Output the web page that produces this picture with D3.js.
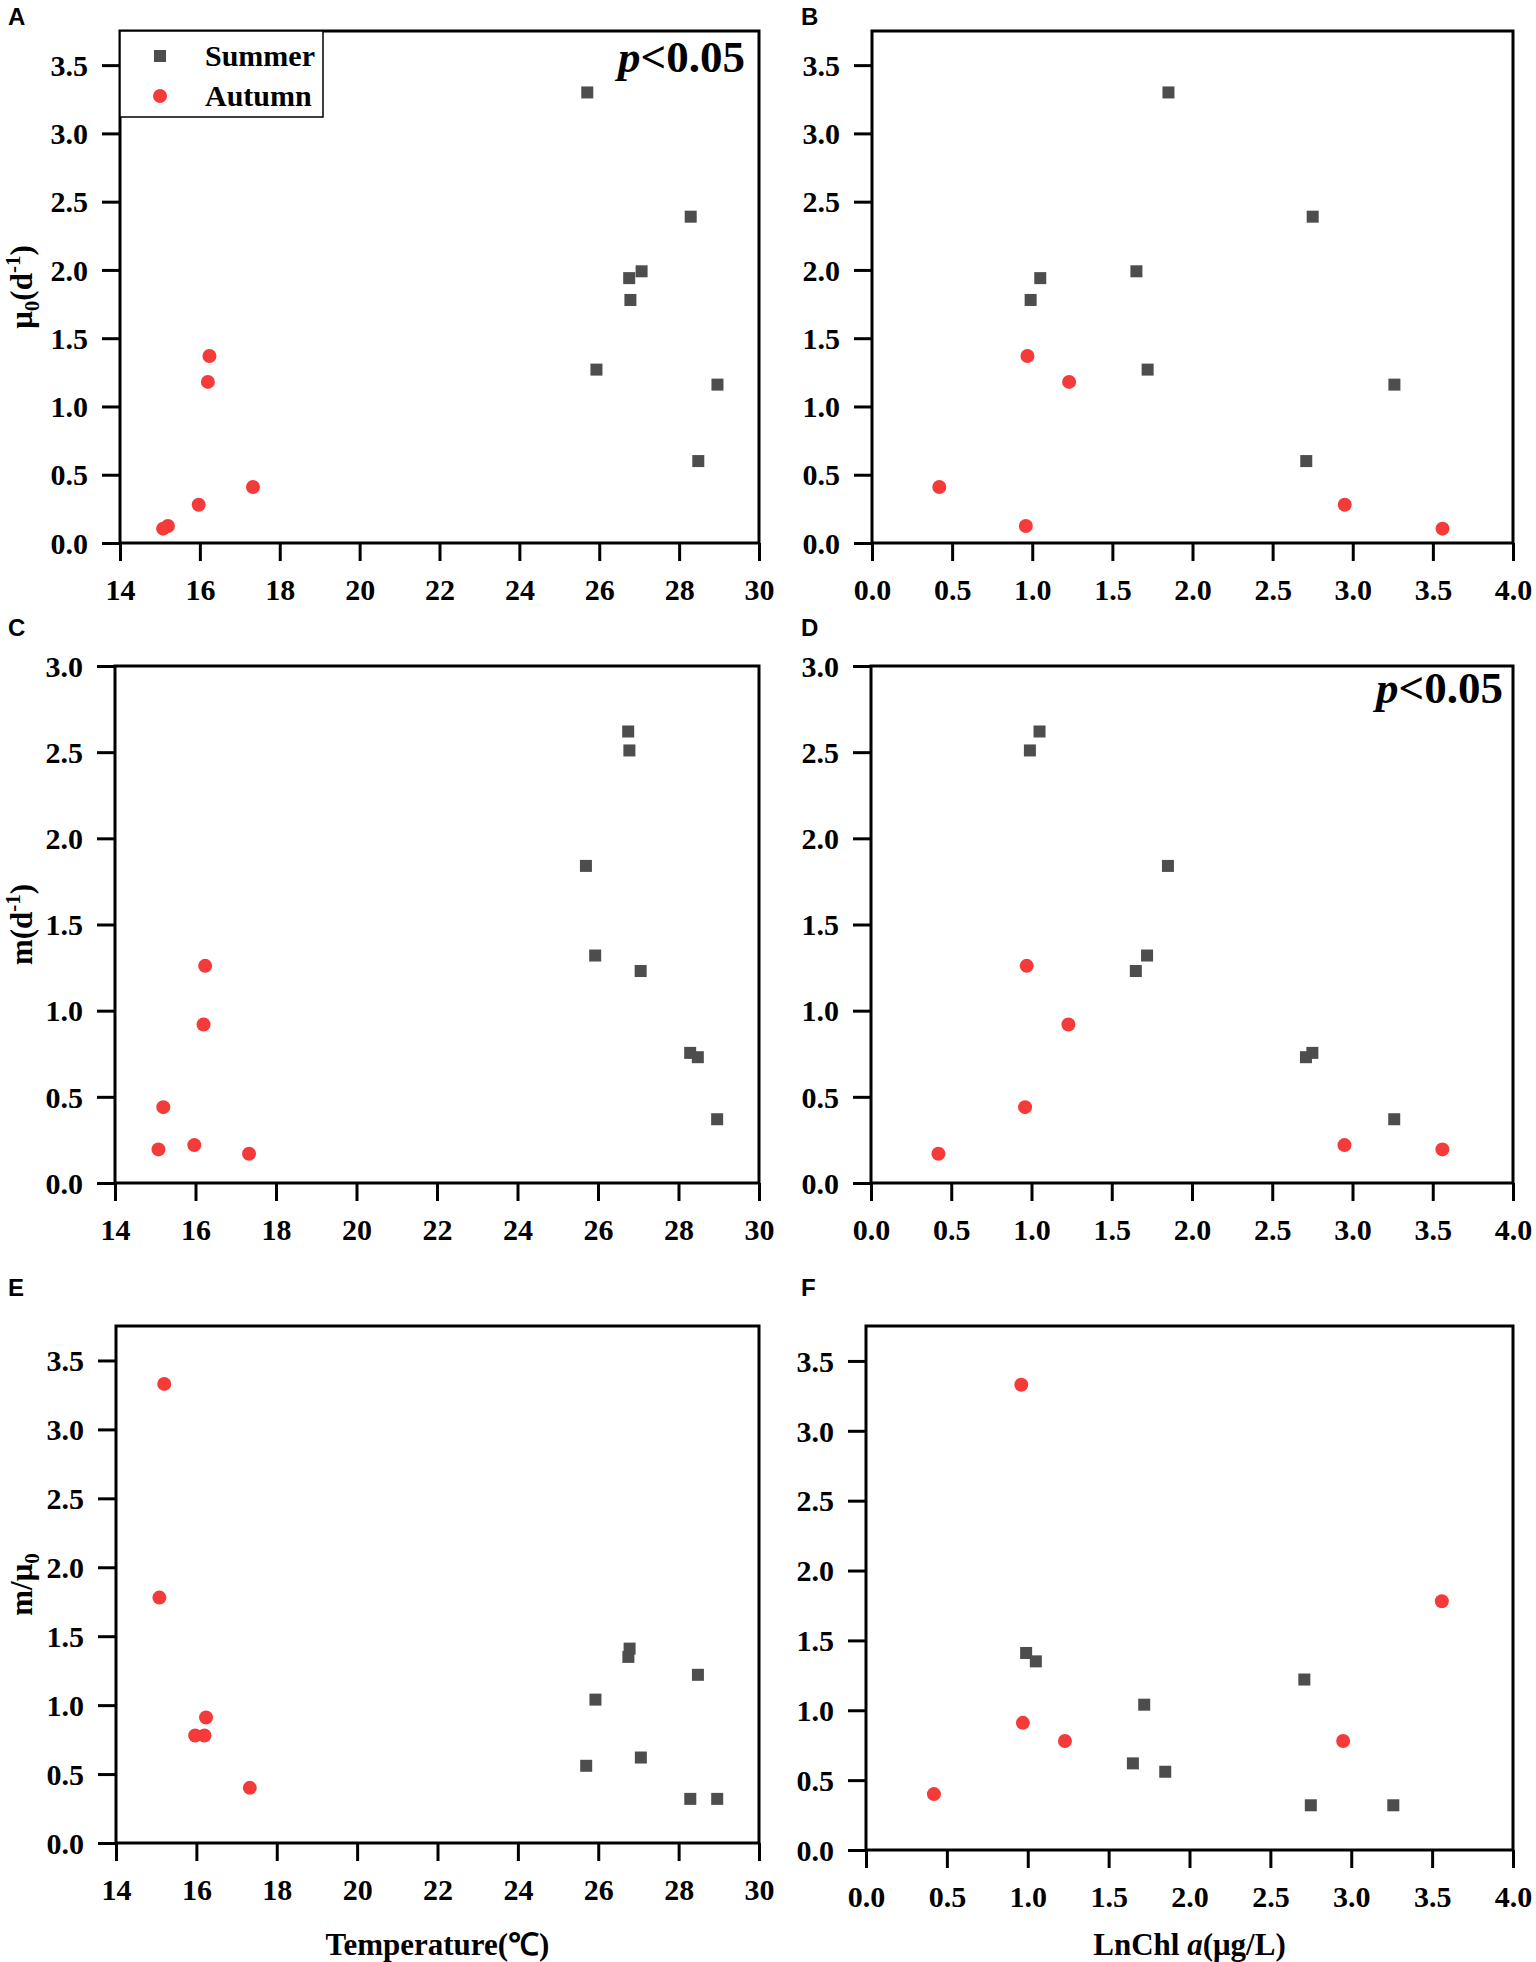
<!DOCTYPE html>
<html lang="en">
<head>
  <meta charset="UTF-8" />
  <title>Growth and grazing rates vs temperature and Chl a</title>
  <script src="https://d3js.org/d3.v7.min.js"></script>
  <style>
    body { margin:0; padding:0; background:#fff; }
    svg { display:block; background:#fff; }
    .tick text { font-family:"Liberation Serif","Times New Roman",serif; font-weight:bold; font-size:30px; fill:#000; }
    .tick line { stroke:#000; stroke-width:3px; }
    .frame { fill:none; stroke:#000; stroke-width:3px; }
    .title { font-family:"Liberation Serif","Times New Roman",serif; font-weight:bold; fill:#000; }
    .letter { font-family:"Liberation Sans",Arial,sans-serif; font-weight:bold; font-size:24px; fill:#000; }
  </style>
</head>
<body>
  <svg width="1536" height="1962"></svg>

  <script>
  // ---- data ----
  // summer stations (same order in every array)
  const summerTemp  = [25.70, 28.29, 27.06, 26.75, 26.78, 25.93, 28.96, 28.48];
  const summerChl   = [1.85, 2.75, 1.65, 1.05, 0.99, 1.72, 3.26, 2.71];
  const summerMu    = [3.30, 2.39, 1.99, 1.94, 1.78, 1.27, 1.16, 0.60];
  const summerM     = [1.84, 0.755, 1.23, 2.62, 2.51, 1.32, 0.37, 0.73];
  const summerRatio = [0.56, 0.32, 0.62, 1.35, 1.41, 1.04, 0.32, 1.22];
  // autumn stations
  const autumnTemp  = [16.24, 16.20, 15.97, 17.33, 15.20, 15.08];
  const autumnChl   = [0.97, 1.23, 2.95, 0.42, 0.96, 3.56];
  const autumnMu    = [1.37, 1.18, 0.28, 0.41, 0.125, 0.105];
  const autumnM     = [1.26, 0.92, 0.22, 0.17, 0.44, 0.195];
  const autumnRatio = [0.91, 0.78, 0.78, 0.40, 3.33, 1.78];

  const tempTicks = [14, 16, 18, 20, 22, 24, 26, 28, 30];
  const chlTicks  = [0, 0.5, 1, 1.5, 2, 2.5, 3, 3.5, 4];
  const muTicks   = [0, 0.5, 1, 1.5, 2, 2.5, 3, 3.5];
  const mTicks    = [0, 0.5, 1, 1.5, 2, 2.5, 3];
  const seasons   = ["Summer", "Autumn"];

  const SUMMER_COL = "#4d4d4d", AUTUMN_COL = "#f53a3a";

  (function(){
    const svg = d3.select("svg");
    const zip = (xs, ys) => xs.map((x, i) => ({x: x, y: ys[i]}));

    const panels = [
      { id:"A", box:[120, 759, 31, 543],  xDom:[14,30], xTicks:tempTicks, xFmt:d3.format("d"),
        yDom:[0,3.75], yTicks:muTicks, sx:summerTemp, sy:summerMu, ax:autumnTemp, ay:autumnMu,
        ytitle:"mu", legend:true, p:[745, 72] },
      { id:"B", box:[872, 1513, 31, 543], xDom:[0,4], xTicks:chlTicks, xFmt:d3.format(".1f"),
        yDom:[0,3.75], yTicks:muTicks, sx:summerChl, sy:summerMu, ax:autumnChl, ay:autumnMu },
      { id:"C", box:[115, 759, 666, 1183], xDom:[14,30], xTicks:tempTicks, xFmt:d3.format("d"),
        yDom:[0,3], yTicks:mTicks, sx:summerTemp, sy:summerM, ax:autumnTemp, ay:autumnM,
        ytitle:"m" },
      { id:"D", box:[871, 1513, 666, 1183], xDom:[0,4], xTicks:chlTicks, xFmt:d3.format(".1f"),
        yDom:[0,3], yTicks:mTicks, sx:summerChl, sy:summerM, ax:autumnChl, ay:autumnM,
        p:[1503, 703] },
      { id:"E", box:[116, 759, 1326, 1843], xDom:[14,30], xTicks:tempTicks, xFmt:d3.format("d"),
        yDom:[0,3.75], yTicks:muTicks, sx:summerTemp, sy:summerRatio, ax:autumnTemp, ay:autumnRatio,
        ytitle:"ratio", xtitle:"temp" },
      { id:"F", box:[866, 1513, 1326, 1850], xDom:[0,4], xTicks:chlTicks, xFmt:d3.format(".1f"),
        yDom:[0,3.75], yTicks:muTicks, sx:summerChl, sy:summerRatio, ax:autumnChl, ay:autumnRatio,
        xtitle:"chl" }
    ];

    panels.forEach(drawPanel);

    function drawPanel(cfg){
      const [L, R, T, B] = cfg.box;
      const x = d3.scaleLinear().domain(cfg.xDom).range([L, R]);
      const y = d3.scaleLinear().domain(cfg.yDom).range([B, T]);
      const g = svg.append("g");

      // panel letter
      const letterX = L < 400 ? 8 : 801;
      g.append("text").attr("class","letter").attr("x", letterX).attr("y", T > 100 ? T - 30 : 25)
        .text(cfg.id);

      // axes (outward ticks on bottom and left only)
      const xa = g.append("g").attr("transform", `translate(0,${B})`)
        .call(d3.axisBottom(x).tickValues(cfg.xTicks).tickFormat(cfg.xFmt).tickSize(18).tickSizeOuter(0));
      xa.select(".domain").remove();
      xa.selectAll("text").attr("y", 57).attr("dy", null);

      const ya = g.append("g").attr("transform", `translate(${L},0)`)
        .call(d3.axisLeft(y).tickValues(cfg.yTicks).tickFormat(d3.format(".1f")).tickSize(18).tickSizeOuter(0));
      ya.select(".domain").remove();
      ya.selectAll("text").attr("x", -32).attr("dy", "0.34em");

      // frame
      g.append("rect").attr("class","frame")
        .attr("x", L).attr("y", T).attr("width", R - L).attr("height", B - T);

      // points
      g.selectAll(".sq").data(zip(cfg.sx, cfg.sy)).enter().append("rect")
        .attr("class","sq")
        .attr("x", d => x(d.x) - 6).attr("y", d => y(d.y) - 6)
        .attr("width", 12).attr("height", 12)
        .attr("fill", SUMMER_COL);
      g.selectAll(".dot").data(zip(cfg.ax, cfg.ay)).enter().append("circle")
        .attr("class","dot")
        .attr("cx", d => x(d.x)).attr("cy", d => y(d.y))
        .attr("r", 7)
        .attr("fill", AUTUMN_COL);

      // p value annotation
      if (cfg.p) {
        const t = g.append("text").attr("class","title").attr("font-size", 45)
          .attr("x", cfg.p[0]).attr("y", cfg.p[1]).attr("text-anchor","end");
        t.append("tspan").attr("font-style","italic").text("p");
        t.append("tspan").text("<0.05");
      }

      // y title
      if (cfg.ytitle) {
        const cy = (T + B) / 2;
        const t = g.append("text").attr("class","title").attr("font-size", 31)
          .attr("text-anchor","middle")
          .attr("transform", `translate(32,${cy}) rotate(-90)`);
        if (cfg.ytitle === "mu") {
          t.append("tspan").text("μ");
          t.append("tspan").attr("font-size", 21).attr("dy", 7).text("0");
          t.append("tspan").attr("dy", -7).text("(d");
          t.append("tspan").attr("font-size", 21).attr("dy", -12).text("-1");
          t.append("tspan").attr("dy", 12).text(")");
        } else if (cfg.ytitle === "m") {
          t.append("tspan").text("m(d");
          t.append("tspan").attr("font-size", 21).attr("dy", -12).text("-1");
          t.append("tspan").attr("dy", 12).text(")");
        } else {
          t.append("tspan").text("m/μ");
          t.append("tspan").attr("font-size", 21).attr("dy", 7).text("0");
        }
      }

      // x title
      if (cfg.xtitle) {
        const t = g.append("text").attr("class","title").attr("font-size", 31)
          .attr("x", (L + R) / 2).attr("y", 1955).attr("text-anchor","middle");
        if (cfg.xtitle === "temp") {
          t.text("Temperature(℃)");
        } else {
          t.append("tspan").text("LnChl ");
          t.append("tspan").attr("font-style","italic").text("a");
          t.append("tspan").text("(μg/L)");
        }
      }

      // legend
      if (cfg.legend) {
        const lg = g.append("g");
        lg.append("rect").attr("x", L).attr("y", T).attr("width", 203).attr("height", 86)
          .attr("fill","#fff").attr("stroke","#000").attr("stroke-width", 1.5);
        const rows = lg.selectAll(".lrow").data(seasons).enter().append("g")
          .attr("transform", (d, i) => `translate(${L + 40},${T + 25 + i * 40})`);
        rows.filter((d, i) => i === 0).append("rect")
          .attr("x", -6).attr("y", -6).attr("width", 12).attr("height", 12).attr("fill", SUMMER_COL);
        rows.filter((d, i) => i === 1).append("circle").attr("r", 7).attr("fill", AUTUMN_COL);
        rows.append("text").attr("class","title").attr("font-size", 30)
          .attr("x", 45).attr("y", 10).text(d => d);
      }
    }
  })();
  </script>
</body>
</html>
